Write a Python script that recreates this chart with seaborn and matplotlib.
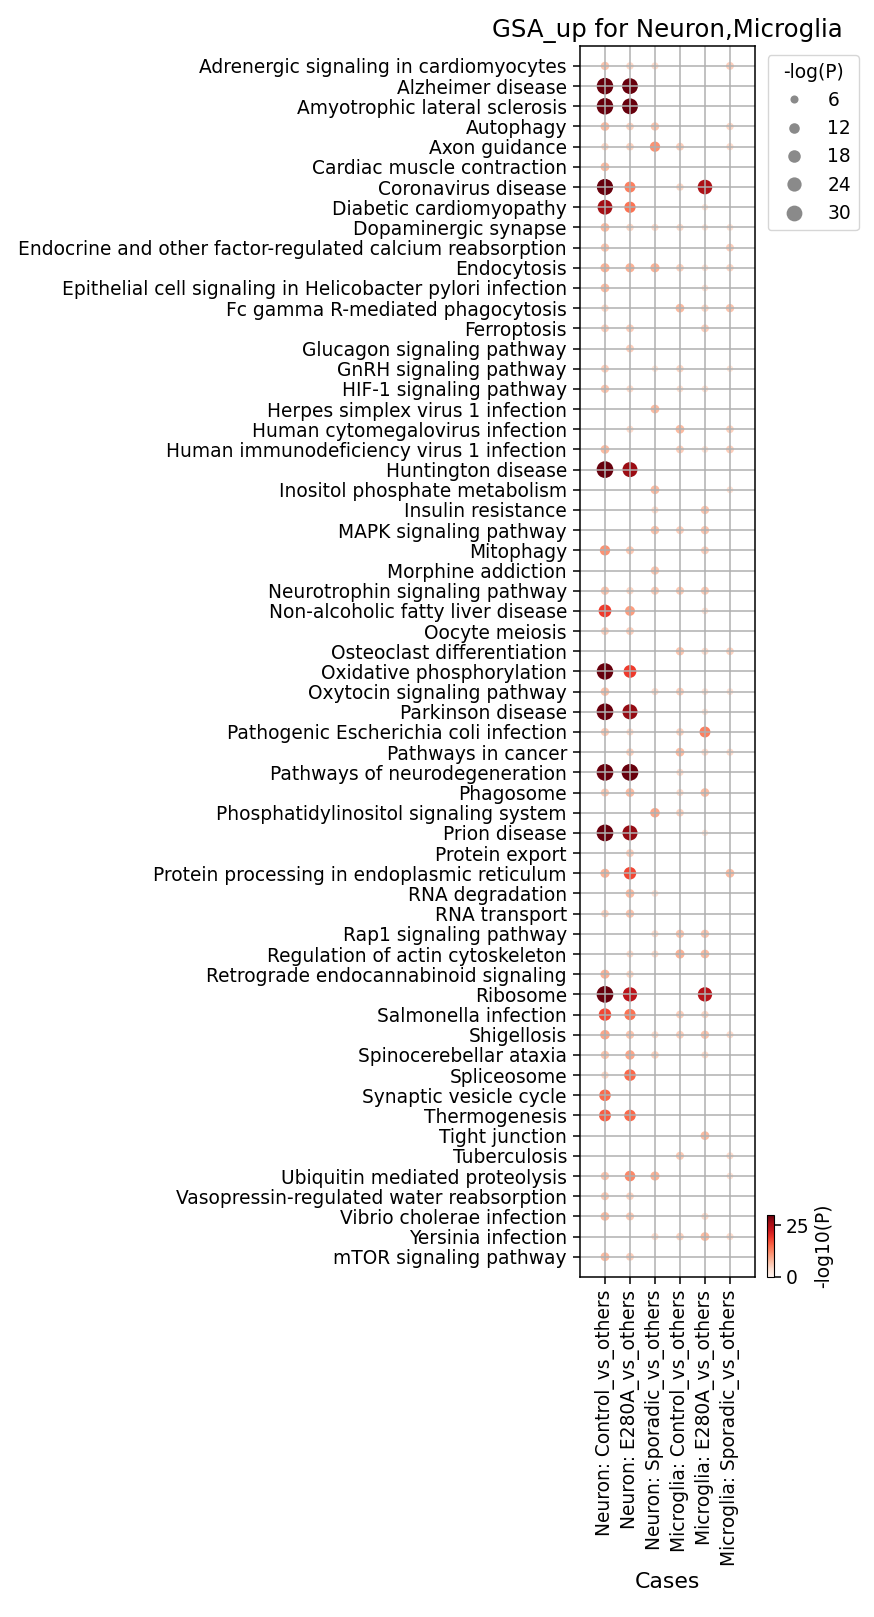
import numpy as np
import pandas as pd
import matplotlib
matplotlib.use("Agg")
import matplotlib.pyplot as plt
import seaborn as sns

pathways = [
    "Adrenergic signaling in cardiomyocytes", "Alzheimer disease", "Amyotrophic lateral sclerosis",
    "Autophagy", "Axon guidance", "Cardiac muscle contraction", "Coronavirus disease",
    "Diabetic cardiomyopathy", "Dopaminergic synapse",
    "Endocrine and other factor-regulated calcium reabsorption", "Endocytosis",
    "Epithelial cell signaling in Helicobacter pylori infection", "Fc gamma R-mediated phagocytosis",
    "Ferroptosis", "Glucagon signaling pathway", "GnRH signaling pathway", "HIF-1 signaling pathway",
    "Herpes simplex virus 1 infection", "Human cytomegalovirus infection",
    "Human immunodeficiency virus 1 infection", "Huntington disease", "Inositol phosphate metabolism",
    "Insulin resistance", "MAPK signaling pathway", "Mitophagy", "Morphine addiction",
    "Neurotrophin signaling pathway", "Non-alcoholic fatty liver disease", "Oocyte meiosis",
    "Osteoclast differentiation", "Oxidative phosphorylation", "Oxytocin signaling pathway",
    "Parkinson disease", "Pathogenic Escherichia coli infection", "Pathways in cancer",
    "Pathways of neurodegeneration", "Phagosome", "Phosphatidylinositol signaling system",
    "Prion disease", "Protein export", "Protein processing in endoplasmic reticulum",
    "RNA degradation", "RNA transport", "Rap1 signaling pathway", "Regulation of actin cytoskeleton",
    "Retrograde endocannabinoid signaling", "Ribosome", "Salmonella infection", "Shigellosis",
    "Spinocerebellar ataxia", "Spliceosome", "Synaptic vesicle cycle", "Thermogenesis",
    "Tight junction", "Tuberculosis", "Ubiquitin mediated proteolysis",
    "Vasopressin-regulated water reabsorption", "Vibrio cholerae infection", "Yersinia infection",
    "mTOR signaling pathway",
]

cases = ["Neuron: Control_vs_others", "Neuron: E280A_vs_others", "Neuron: Sporadic_vs_others",
         "Microglia: Control_vs_others", "Microglia: E280A_vs_others", "Microglia: Sporadic_vs_others"]

n = np.nan
# -log10(P) for each case, one value per pathway (nan = no dot)
neuron_control = [6.6, 33, 33, 7.5, 4.7, 7.5, 32, 26.3, 7.5, 6.6, 8.4, 7.5, 4.7, 5.6, n, 5.6, 6.6, n, n, 7.5,
                  34, n, n, n, 11.3, n, 6.6, 18.8, 5.6, n, 33, 7.0, 34, 6.1, n, 34, 6.1, n, 34, n,
                  8.4, n, 5.2, n, n, 8.4, 34, 17.8, 9.4, 6.6, 4.7, 15.0, 16.0, n, n, 6.6, 6.1, 7.5, n, 7.5]
neuron_e280a = [4.7, 30, 30, 5.2, 5.2, n, 13.1, 14.1, 4.7, n, 8.4, n, n, 5.6, 5.6, n, 4.2, n, 4.2, n,
                26.8, n, n, n, 6.1, n, 4.7, 10.3, 5.6, n, 18.8, n, 27.2, 4.2, 5.2, 34, 7.5, n, 27.2, 5.6,
                17.8, 7.5, 6.6, n, 4.2, 4.7, 24, 14.1, 6.6, 9.4, 15.0, n, 15.0, n, n, 12.2, 5.2, 6.1, n, 5.6]
neuron_sporadic = [4.2, n, n, 6.6, 11.3, n, n, n, 4.2, n, 8.4, n, n, n, n, 3.0, n, 7.5, n, n,
                   n, 7.5, 4.2, 7.0, n, 6.6, 6.1, n, n, n, n, 4.2, n, n, n, n, n, 9.4, n, n,
                   n, 3.7, n, 4.2, 4.2, n, n, n, 4.2, 5.2, n, n, n, n, n, 8.4, n, n, 4.2, n]
microglia_control = [n, n, n, n, 5.6, n, 4.7, n, 4.2, n, 5.2, n, 7.5, n, n, 4.7, 3.7, n, 7.5, 5.6,
                     n, n, n, 5.6, n, n, 6.1, n, n, 6.6, n, 5.6, n, 5.2, 7.5, 4.2, 4.2, 5.2, n, n,
                     n, n, n, 6.6, 8.4, n, n, 5.6, 5.6, n, n, n, n, n, 6.1, n, n, n, 5.2, n]
microglia_e280a = [n, n, n, n, n, n, 25.4, 3.0, 3.0, n, 3.5, 3.5, 4.7, 5.6, n, n, 3.5, n, n, 3.5,
                   n, n, 6.6, 6.6, 5.6, n, 6.1, 3.5, n, 4.2, n, 3.5, 3.0, 13.1, 4.2, n, 7.5, n, 3.0, n,
                   n, n, n, 6.6, 7.5, n, 24.4, 4.7, 6.6, 4.2, n, n, n, 7.5, n, n, n, 4.2, 7.5, n]
microglia_sporadic = [5.6, n, n, 4.7, 4.2, n, n, n, 3.5, 5.6, 4.7, n, 6.6, n, n, 3.0, n, n, 5.2, 5.6,
                      n, 3.5, n, n, n, n, n, n, n, 5.2, n, 3.5, n, n, 4.2, n, n, n, n, n,
                      7.5, n, n, n, n, n, n, n, 4.2, n, n, n, n, n, 4.2, 3.5, n, n, 4.2, n]

columns = [neuron_control, neuron_e280a, neuron_sporadic,
           microglia_control, microglia_e280a, microglia_sporadic]

rows = []
for case, vals in zip(cases, columns):
    for pw, v in zip(pathways, vals):
        if not np.isnan(v):
            rows.append((pw, case, v))
df = pd.DataFrame(rows, columns=["pathway", "case", "-log10(P)"])
df["-log(P)"] = df["-log10(P)"]
df["pathway"] = pd.Categorical(df["pathway"], categories=pathways)
df["case"] = pd.Categorical(df["case"], categories=cases)

fs = 13.4
fig = plt.figure(figsize=(8.74, 16.17), dpi=100)
ax = fig.add_axes([0.6636, 0.2103, 0.2002, 0.7614])
sns.scatterplot(data=df, x="case", y="pathway", hue="-log10(P)", size="-log(P)",
                palette="Reds", hue_norm=(0, 30), sizes=(22, 145), size_norm=(3, 34),
                linewidth=0, legend="brief", ax=ax)

ax.set_xlim(-1, len(cases))
ax.set_ylim(len(pathways), -1)
ax.grid(True, color="#b0b0b0", linewidth=1.1)
for s in ax.spines.values():
    s.set_linewidth(1.1)
ax.tick_params(labelsize=fs, length=4.7, width=1.1, pad=4.7)
plt.setp(ax.get_xticklabels(), rotation=90)
ax.set_xlabel("Cases", fontsize=15.8)
ax.set_ylabel("")
ax.set_title("GSA_up for Neuron,Microglia", fontsize=17.6)

# keep only the size part of the seaborn legend
handles, labels = ax.get_legend_handles_labels()
k = labels.index("-log(P)")
size_h, size_l = handles[k + 1:], labels[k + 1:]
for h in size_h:
    h.set_markerfacecolor("#8a8a8a")
    h.set_markeredgecolor("#8a8a8a")
ax.legend(size_h, size_l, title="-log(P)", loc="upper left", bbox_to_anchor=(1.02, 1.0),
          fontsize=fs, title_fontsize=fs)

cax = fig.add_axes([0.8776, 0.2103, 0.008, 0.0383])
sm = plt.cm.ScalarMappable(norm=plt.Normalize(0, 30), cmap="Reds")
cb = fig.colorbar(sm, cax=cax, ticks=[0, 25])
cb.set_label("-log10(P)", fontsize=fs)
cb.ax.tick_params(labelsize=fs, length=4.7, width=1.1)

fig.savefig("out.png", dpi=100)
